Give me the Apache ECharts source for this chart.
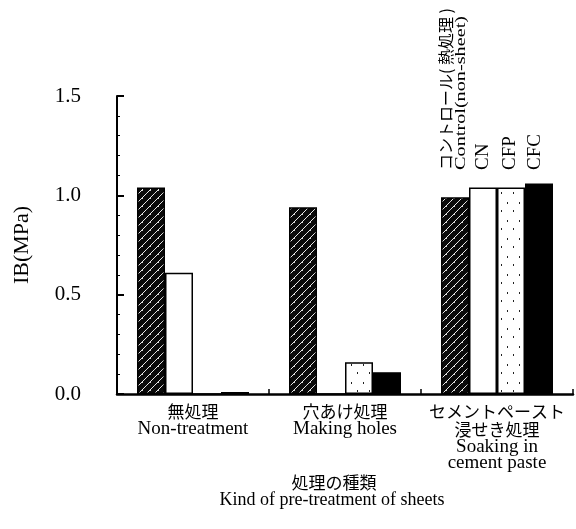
<!DOCTYPE html>
<html>
<head>
<meta charset="utf-8">
<script src="https://cdn.jsdelivr.net/npm/echarts@6/dist/echarts.min.js"></script>
<style>
  html, body { margin: 0; padding: 0; background: #fff; }
  #chart { width: 576px; height: 529px; }
</style>
</head>
<body>
<div id="chart"></div>
<script>
// Treatment categories (Japanese line(s) + English line(s))
const categoryKeys = ['無処理', '穴あけ処理', 'セメントペースト浸せき処理'];
const categoryJa = [['無処理'], ['穴あけ処理'], ['セメントペースト', '浸せき処理']];
const categoryEn = [['Non-treatment'], ['Making holes'], ['Soaking in', 'cement paste']];

// Internal bond strength IB (MPa) per sheet type
const controlIB = [1.04, 0.94, 0.99];
const cnIB      = [0.61, 0.00, 1.04];
const cfpIB     = [0.00, 0.16, 1.04];
const cfcIB     = [0.01, 0.11, 1.06];

// Y axis ticks
const yTicks = [0, 0.5, 1.0, 1.5];

// Series names drawn above the soaking group
const controlNameJa = 'コントロール( 熱処理 )';
const controlNameEn = 'Control(non-sheet)';
const seriesNames = ['CN', 'CFP', 'CFC'];

const SERIF = '"Liberation Serif", "Times New Roman", serif';
const JP = '"Noto Sans CJK JP", sans-serif';

// dark hatched fill with speckles
function hatchTile() {
  const c = document.createElement('canvas');
  c.width = 8; c.height = 8;
  const g = c.getContext('2d');
  g.fillStyle = '#0a0a0a';
  g.fillRect(0, 0, 8, 8);
  g.strokeStyle = '#e8e8e8';
  g.lineWidth = 1;
  g.beginPath();
  g.moveTo(0, 4); g.lineTo(4, 0);
  g.moveTo(0, 12); g.lineTo(12, 0);
  g.stroke();
  g.fillStyle = '#cfcfcf';
  g.fillRect(6, 6, 1, 1);
  g.fillRect(2, 1, 1, 1);
  return c;
}

// sparse dotted fill
function speckTile() {
  const c = document.createElement('canvas');
  c.width = 12; c.height = 18;
  const g = c.getContext('2d');
  g.fillStyle = '#fff';
  g.fillRect(0, 0, 12, 18);
  g.fillStyle = '#222';
  g.fillRect(3, 4, 1, 2);
  g.fillRect(9, 12, 1, 2);
  return c;
}

const chart = echarts.init(document.getElementById('chart'), null, { renderer: 'canvas' });

const barBase = {
  type: 'bar',
  barWidth: 28,
  barGap: '0%',
  emphasis: { disabled: true },
  animation: false
};

function vText(x, y, text, font, stretch) {
  return {
    type: 'text', x: x, y: y, rotation: Math.PI / 2, scaleX: stretch || 1,
    style: { text: text, font: font, fill: '#000', textAlign: 'left', textVerticalAlign: 'middle' }
  };
}

const option = {
  backgroundColor: '#fff',
  animation: false,
  grid: { left: 117, right: 3, top: 96, bottom: 135, containLabel: false },
  xAxis: {
    type: 'category',
    data: categoryKeys,
    axisLine: { lineStyle: { color: '#000', width: 2.5 } },
    axisTick: { show: true, inside: true, length: 5, lineStyle: { color: '#000', width: 1.5 } },
    axisLabel: {
      margin: 9,
      interval: 0,
      color: '#000',
      formatter: function (v, i) {
        const ja = categoryJa[i].map(s => '{ja|' + s + '}');
        const en = categoryEn[i].map(s => '{en|' + s + '}');
        return ja.concat(en).join('\n');
      },
      rich: {
        ja: { fontFamily: JP, fontSize: 17, lineHeight: 18, color: '#000' },
        en: { fontFamily: SERIF, fontSize: 19, lineHeight: 16, color: '#000' }
      }
    },
    splitLine: { show: false }
  },
  yAxis: {
    type: 'value',
    min: yTicks[0],
    max: yTicks[yTicks.length - 1],
    interval: 0.5,
    name: 'IB(MPa)',
    nameLocation: 'middle',
    nameGap: 84,
    nameTextStyle: { fontFamily: SERIF, fontSize: 22, color: '#000' },
    axisLine: { show: true, lineStyle: { color: '#000', width: 2 } },
    axisTick: { show: true, inside: true, length: 7, lineStyle: { color: '#000', width: 2 } },
    minorTick: { show: true, splitNumber: 5, length: 3, lineStyle: { color: '#000', width: 1 } },
    axisLabel: {
      margin: 36,
      color: '#000',
      fontFamily: SERIF,
      fontSize: 21,
      formatter: v => v.toFixed(1)
    },
    splitLine: { show: false }
  },
  series: [
    Object.assign({}, barBase, { name: 'Control', data: controlIB,
      itemStyle: { color: { image: hatchTile(), repeat: 'repeat' }, borderColor: '#000', borderWidth: 1.5 } }),
    Object.assign({}, barBase, { name: 'CN', data: cnIB,
      itemStyle: { color: '#fff', borderColor: '#000', borderWidth: 1.5 } }),
    Object.assign({}, barBase, { name: 'CFP', data: cfpIB,
      itemStyle: { color: { image: speckTile(), repeat: 'repeat' }, borderColor: '#000', borderWidth: 1.5 } }),
    Object.assign({}, barBase, { name: 'CFC', data: cfcIB,
      itemStyle: { color: '#000', borderColor: '#000', borderWidth: 1.5 } })
  ],
  graphic: [
    vText(446, 170, controlNameJa, '16px ' + JP),
    vText(461, 170, controlNameEn, '15px ' + SERIF, 1.35),
    vText(483, 170, seriesNames[0], '19px ' + SERIF),
    vText(510, 170, seriesNames[1], '19px ' + SERIF),
    vText(535, 170, seriesNames[2], '19px ' + SERIF),
    { type: 'text', x: 334, y: 483,
      style: { text: '処理の種類', font: '17px ' + JP, fill: '#000', textAlign: 'center', textVerticalAlign: 'middle' } },
    { type: 'text', x: 332, y: 500,
      style: { text: 'Kind of pre-treatment of sheets', font: '18px ' + SERIF, fill: '#000', textAlign: 'center', textVerticalAlign: 'middle' } }
  ]
};

chart.setOption(option);
</script>
</body>
</html>
